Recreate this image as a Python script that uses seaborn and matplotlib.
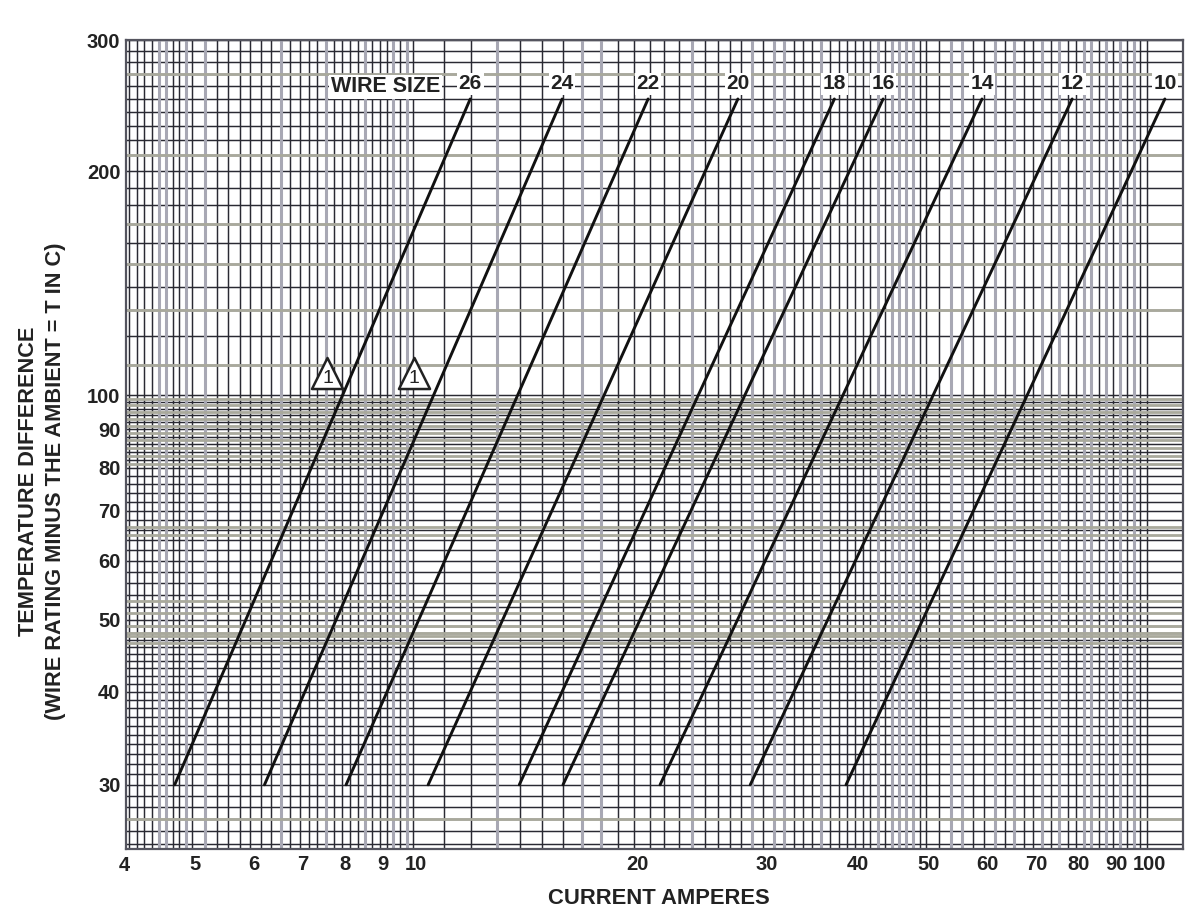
import numpy as np
import pandas as pd
import seaborn as sns
import matplotlib.pyplot as plt
from matplotlib.ticker import NullFormatter
from matplotlib.transforms import ScaledTranslation

wire_sizes = ["26", "24", "22", "20", "18", "16", "14", "12", "10"]
# current at 30 C and at 250 C difference
amps_low = [4.73, 6.27, 8.10, 10.48, 13.95, 16.0, 21.7, 28.8, 38.9]
amps_high = [11.96, 15.96, 20.9, 27.7, 37.5, 43.7, 59.6, 79.1, 105.8]
temp_low = 30
temp_high = 250

x_tick_values = [5, 6, 7, 8, 9, 10, 20, 30, 40, 50, 60, 70, 80, 90, 100]
y_tick_values = [30, 40, 50, 60, 70, 80, 90, 100, 200, 300]

# paper grid
x_grid = (list(np.arange(4.1, 5.0, 0.1)) + list(np.arange(5.0, 10.01, 0.2))
          + list(range(11, 51)) + list(range(52, 101, 2)))
y_grid = list(range(25, 50)) + list(range(50, 100, 2)) + list(range(100, 300, 10))
x_soft = [4.5, 4.6, 4.9, 5.2, 6.6, 7.6, 8.6, 9.4, 9.8, 13, 17, 18, 24, 29, 31, 32,
          36, 43, 45, 46, 47, 48, 54, 56, 62, 66, 72, 76, 82, 84, 88, 92, 96]
y_soft = [27, 46.5, 47.5, 48, 49, 51, 53, 65, 66.5, 81, 83, 85, 87, 89, 91, 93, 95, 97, 99,
          110, 130, 150, 170, 210, 270]

rows = []
for size, lo, hi in zip(wire_sizes, amps_low, amps_high):
    rows.append({"wire": size, "amps": lo, "temp": temp_low})
    rows.append({"wire": size, "amps": hi, "temp": temp_high})
df = pd.DataFrame(rows)

sns.set_theme(style="white")
plt.rcParams["font.family"] = ["Liberation Sans", "DejaVu Sans"]

fig = plt.figure(figsize=(12, 9.14), dpi=100)
ax = fig.add_axes([126 / 1200, 1 - 849 / 914, (1183 - 126) / 1200, (849 - 40) / 914])

sns.lineplot(data=df, x="amps", y="temp", hue="wire", palette=["#111111"] * 9,
             legend=False, linewidth=2.1, ax=ax, zorder=4)

ax.set_xscale("log")
ax.set_yscale("log")

ax.set_xticks(x_tick_values)
ax.set_xticklabels([str(v) for v in x_tick_values])
ax.set_xticks(x_grid, minor=True)
ax.set_yticks(y_tick_values)
ax.set_yticklabels([str(v) for v in y_tick_values])
ax.set_yticks(y_grid, minor=True)
# limits after the ticks, set_xticks can widen them
ax.set_xlim(4.06, 112)
ax.set_ylim(24.6, 300)

ax.xaxis.set_minor_formatter(NullFormatter())
ax.yaxis.set_minor_formatter(NullFormatter())
ax.tick_params(which="both", length=0)
ax.tick_params(axis="x", which="major", pad=4, labelsize=14.5)
ax.tick_params(axis="y", which="major", pad=4, labelsize=14.5)
nudge = ScaledTranslation(3 / 100, 0, fig.dpi_scale_trans)
for lab in ax.get_xticklabels():
    lab.set_transform(lab.get_transform() + nudge)
for lab in ax.get_xticklabels() + ax.get_yticklabels():
    lab.set_fontweight("bold")
    lab.set_color("#222222")

ax.grid(which="both", color="#2a2a33", linewidth=1.05, zorder=1)
ax.set_axisbelow(True)
for v in x_soft:
    ax.axvline(v, color="#a8a8b4", linewidth=2.2, zorder=1.5)
for v in y_soft:
    ax.axhline(v, color="#a9a99c", linewidth=2.0, zorder=1.5)

for s in ax.spines.values():
    s.set_color("#55555f")
    s.set_linewidth(1.6)

# the 4 sits just left of the frame
ax.annotate("4", xy=(0, 0), xycoords="axes fraction", xytext=(-1.5, -5), textcoords="offset points",
            ha="center", va="top", fontsize=14.5, fontweight="bold", color="#222222")

# wire size labels at the top of each line
for size, hi in zip(wire_sizes, amps_high):
    ax.text(hi, 262, size, ha="center", va="center", fontsize=15, fontweight="bold",
            color="#222222", zorder=6,
            bbox=dict(facecolor="white", edgecolor="none", pad=1.2))
ax.text(9.16, 259.5, "WIRE SIZE", ha="center", va="center", fontsize=15.5, fontweight="bold",
        color="#222222", zorder=6, bbox=dict(facecolor="white", edgecolor="none", pad=1.2))

# note triangles
for tx in [7.64, 10.03]:
    ax.scatter([tx], [107], marker="^", s=500, facecolor="white", edgecolor="#222222",
               linewidth=1.8, zorder=5)
    ax.text(tx, 105.5, "1", ha="center", va="center", fontsize=14, color="#222222", zorder=6)

ax.set_xlabel("CURRENT AMPERES", fontsize=15.8, fontweight="bold", color="#222222")
ax.xaxis.set_label_coords((659 - 126) / 1057, -(888 - 849) / 809)
ax.set_ylabel("TEMPERATURE DIFFERENCE\n(WIRE RATING MINUS THE AMBIENT = T IN C)",
              fontsize=15.7, fontweight="bold", color="#222222", linespacing=1.4)
ax.yaxis.set_label_coords(-(126 - 66) / 1057, (849 - 481) / 809)

fig.savefig("out.png", dpi=100)
